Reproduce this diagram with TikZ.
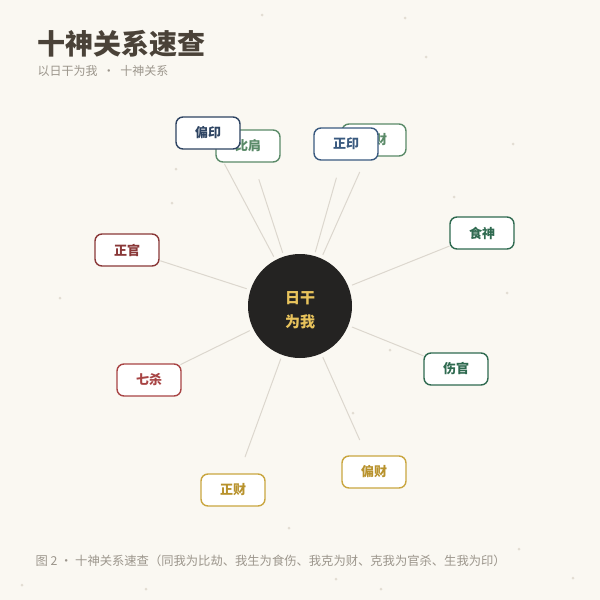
\documentclass[tikz,border=0pt]{standalone}
\usepackage{fontspec}
\setmainfont{Noto Sans CJK SC}
\usetikzlibrary{calc,backgrounds}
\definecolor{bgc}{HTML}{FAF8F2}
\definecolor{titlec}{HTML}{4A4238}
\definecolor{subc}{HTML}{9C968C}
\definecolor{spokec}{HTML}{DCD7CE}
\definecolor{dotc}{HTML}{E2DDD3}
\definecolor{navy}{HTML}{2E4462}
\definecolor{navyb}{HTML}{3A5A80}
\definecolor{lgreen}{HTML}{5A8A68}
\definecolor{dgreen}{HTML}{2F6A50}
\definecolor{dred}{HTML}{8A3838}
\definecolor{red2}{HTML}{A84444}
\definecolor{gold}{HTML}{C9A640}
\definecolor{goldt}{HTML}{B8922C}
\definecolor{centerfill}{HTML}{242322}
\definecolor{centertext}{HTML}{E8C35C}
\tikzset{
  godbox/.style={draw=#1, text=#1, fill=white, rounded corners=7pt, line width=1.4pt,
    minimum width=64pt, minimum height=32pt, inner sep=0pt,
    font=\bfseries\fontsize{13}{13}\selectfont},
  goldbox/.style={draw=gold, text=goldt, fill=white, rounded corners=7pt, line width=1.4pt,
    minimum width=64pt, minimum height=32pt, inner sep=0pt,
    font=\bfseries\fontsize{13}{13}\selectfont},
  spoke/.style={draw=spokec, line width=1pt}
}
\begin{document}
\begin{tikzpicture}[x=1pt,y=-1pt]
\useasboundingbox (0,0) rectangle (600,600);
\begin{scope}[on background layer]
\fill[bgc] (0,0) rectangle (600,600);
\end{scope}
% decorative dots
\foreach \px/\py in {176/169,172/203,60/298,454/197,513/144,426/57,405/18,262/15,390/350,353/413,507/293,519/549,22/585,381/589,146/589,336/579,573/578,289/528}
  \fill[dotc] (\px,\py) circle (1.5);
% title
\node[anchor=west, text=titlec, font=\bfseries\fontsize{28}{28}\selectfont] (title) at (34,44) {十神关系速查};
\node[anchor=west, text=subc, font=\fontsize{12}{12}\selectfont] (sub) at (34,71) {以日干为我\ \ ·\ \ 十神关系};
% center
\node[circle, fill=centerfill, minimum size=104pt, inner sep=0pt] (c) at (300,306) {};
\node[align=center, text=centertext, font=\bfseries\fontsize{15}{24}\selectfont] (ct) at (300,310) {日干\\为我};
% gods
\node[godbox=lgreen] (bj) at (248,146) {比肩};
\node[godbox=navy] (py) at (208,133) {偏印};
\node[godbox=lgreen] (jc) at (374,140) {劫财};
\node[godbox=navyb] (zy) at (346,144) {正印};
\node[godbox=dgreen] (ss) at (482,233) {食神};
\node[godbox=dgreen] (sg) at (456,369) {伤官};
\node[godbox=dred] (zg) at (127,250) {正官};
\node[godbox=red2] (qs) at (149,380) {七杀};
\node[goldbox] (zc) at (233,490) {正财};
\node[goldbox] (pc) at (374,472) {偏财};
% spokes
\begin{scope}[on background layer]
\foreach \n in {bj,py,jc,zy,ss,sg,zg,qs,zc,pc}
  \draw[spoke] ($(c.center)!56pt!(\n.center)$) -- ($(\n.center)!35pt!(c.center)$);
\end{scope}
% caption
\node[anchor=west, text=subc, font=\fontsize{12.3}{12.3}\selectfont] (cap) at (32,561)
  {图 2 · 十神关系速查（同我为比劫、我生为食伤、我克为财、克我为官杀、生我为印）};
\end{tikzpicture}
\end{document}
